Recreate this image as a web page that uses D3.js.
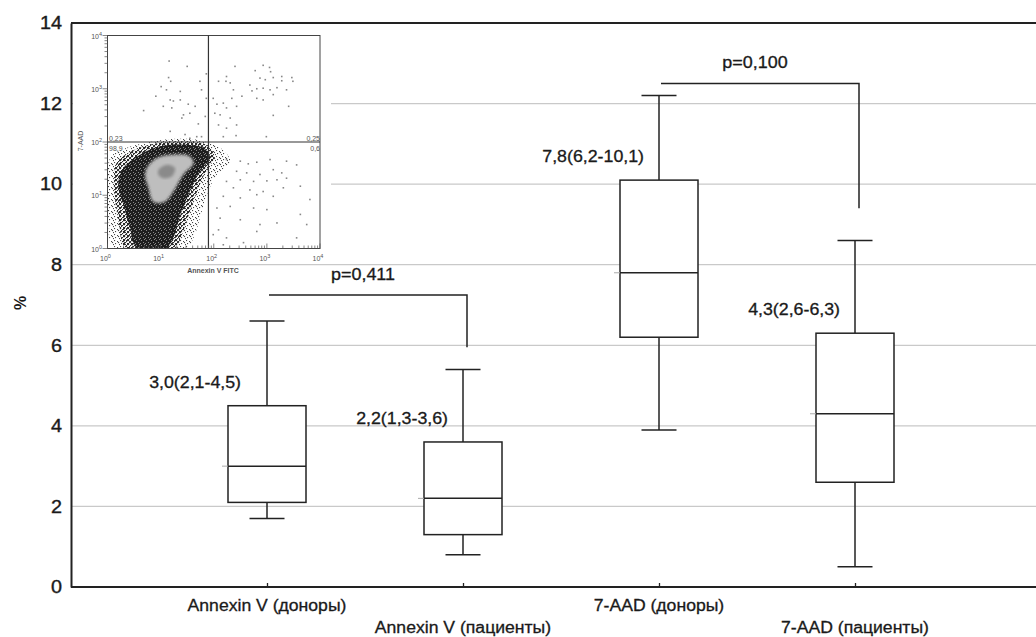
<!DOCTYPE html>
<html lang="ru">
<head>
<meta charset="UTF-8">
<title>Annexin V / 7-AAD</title>
<script src="https://d3js.org/d3.v7.min.js"></script>
<style>
html, body { margin: 0; padding: 0; background: white; }
body { font-family: 'Liberation Sans', Arial, sans-serif; }
.tick-label { font-size: 18px; fill: #1a1a1a; stroke: #1a1a1a; stroke-width: 0.35px; }
.cat-label { font-size: 16px; fill: #1a1a1a; stroke: #1a1a1a; stroke-width: 0.3px; }
.note { font-size: 16px; fill: #1a1a1a; stroke: #1a1a1a; stroke-width: 0.3px; }
.inset-text { font-size: 7px; fill: #555; }
</style>
</head>
<body>
<div id="chart"></div>
<script>

// --------------------------------------
// Data
// --------------------------------------

const categories = ["Annexin V (доноры)", "Annexin V (пациенты)", "7-AAD (доноры)", "7-AAD (пациенты)"];
const whiskerLow  = [1.7, 0.8, 3.9, 0.5];
const q1          = [2.1, 1.3, 6.2, 2.6];
const medians     = [3.0, 2.2, 7.8, 4.3];
const q3          = [4.5, 3.6, 10.1, 6.3];
const whiskerHigh = [6.6, 5.4, 12.2, 8.6];
const yTicks = [0, 2, 4, 6, 8, 10, 12, 14];

// comparison brackets
const bracketPairs = [[0, 1], [2, 3]];
const bracketTop   = [7.25, 12.5];
const bracketEnd   = [5.95, 9.4];
const pLabels      = ["p=0,411", "p=0,100"];

// inset dot plot (log10 decades: [Annexin V FITC, 7-AAD])
const insetTicks = [0, 1, 2, 3, 4];
const gateX = 1.9, gateY = 2.0;
const quadrantLabels = ["0,23", "98,9", "0,25", "0,6"];
const sparseDots = [
  [1.16,3.52],[1.50,3.42],[1.15,3.21],[1.19,3.14],[1.01,3.04],[1.11,2.98],[1.37,2.95],[0.91,2.86],
  [1.18,2.79],[1.24,2.77],[1.37,2.79],[1.05,2.67],[0.68,2.59],[1.21,2.64],[1.52,2.71],[1.65,2.67],
  [1.55,2.54],[1.43,2.51],[1.40,2.45],[1.74,3.14],[1.86,3.28],[1.77,2.98],[1.86,2.82],[1.71,2.34],
  [1.84,2.48],[1.18,2.20],[1.46,2.14],[1.55,2.07],[1.68,2.10],[1.77,2.10],
  [2.40,3.42],[2.24,3.23],[2.09,3.14],[2.23,3.14],[2.31,3.11],[2.78,3.34],[2.93,3.44],[3.05,3.40],
  [3.07,3.32],[2.87,3.20],[2.97,3.17],[3.12,3.21],[3.28,3.23],[3.28,3.15],[3.47,3.21],[3.49,3.14],
  [2.68,3.07],[2.72,2.96],[2.81,3.00],[2.93,3.01],[3.06,2.98],[3.19,3.02],[3.37,2.98],[2.81,2.82],
  [2.93,2.79],[3.12,2.89],[2.37,2.98],[2.34,2.82],[2.53,2.86],[1.99,2.82],[2.06,2.71],[2.18,2.73],
  [2.24,2.64],[2.43,2.67],[2.02,2.54],[2.12,2.51],[2.31,2.45],[2.43,2.32],[2.09,2.32],[2.24,2.26],
  [2.42,2.12],[2.18,2.10],[2.99,2.10],[3.41,2.67],[3.12,2.50],
  [2.24,1.67],[2.50,1.64],[2.65,1.59],[2.81,1.62],[3.06,1.67],[3.37,1.64],[3.56,1.57],[2.43,1.45],
  [2.62,1.42],[2.87,1.39],[3.12,1.48],[3.28,1.42],[2.24,1.26],[2.50,1.29],[2.75,1.26],[3.00,1.27],
  [3.19,1.29],[3.37,1.32],[2.37,1.14],[2.68,1.10],[2.93,1.07],[3.31,1.14],[3.63,1.17],[2.18,0.98],
  [2.50,0.95],[2.81,1.01],[3.12,0.98],[3.81,0.92],[2.06,0.76],[2.31,0.79],[2.75,0.76],[3.00,0.73],
  [2.12,0.57],[2.50,0.54],[2.87,0.45],[3.19,0.48],[3.63,0.64],[2.09,0.35],[2.24,0.20],[2.56,0.11],
  [2.81,0.32],[3.56,0.20],[3.75,0.45],[2.18,0.07],[1.99,0.26]
];
const haloOutline = [[0.05,1.70],[0.36,1.89],[0.80,2.00],[1.30,2.06],[1.74,2.03],[2.12,1.89],[2.31,1.64],
  [2.06,1.39],[1.87,1.01],[1.74,0.57],[1.62,0.20],[1.49,0.01],[0.11,0.01],[0.02,0.51],[0.0,1.14]];
const midOutline = [[0.18,1.62],[0.50,1.85],[0.95,1.98],[1.40,2.01],[1.85,1.95],[2.02,1.72],[1.85,1.45],
  [1.68,1.05],[1.52,0.60],[1.38,0.20],[1.28,0.01],[0.34,0.01],[0.22,0.45],[0.14,0.95],[0.12,1.30]];
const denseOutline = [[0.30,1.51],[0.61,1.76],[0.99,1.92],[1.43,1.95],[1.81,1.89],[1.93,1.70],[1.74,1.45],
  [1.55,1.07],[1.37,0.63],[1.24,0.20],[1.11,0.01],[0.55,0.01],[0.42,0.39],[0.30,0.82],[0.20,1.20]];
const lightOutline = [[0.74,1.51],[0.93,1.70],[1.24,1.76],[1.55,1.73],[1.62,1.60],[1.43,1.39],[1.24,1.07],
  [1.08,0.88],[0.86,0.88],[0.77,1.14],[0.71,1.35]];
const coreOutline = [[0.96,1.48],[1.11,1.57],[1.27,1.51],[1.21,1.35],[1.05,1.32],[0.96,1.38]];

// --------------------------------------
// Size
// --------------------------------------

let totalWidth = 1036;
let totalHeight = 637;

let svg = d3.select('#chart')
  .append("svg")
  .attr("width", totalWidth)
  .attr("height", totalHeight)
  .style("background", "white");

// the scanned figure's lettering is a bit wider than Arial
function widen(sel, k) {
  sel.each(function () {
    let w = this.getComputedTextLength();
    d3.select(this).attr("textLength", w * k).attr("lengthAdjust", "spacingAndGlyphs");
  });
}

// --------------------------------------
// Scales
// --------------------------------------

let x = d3.scalePoint()
  .domain(categories)
  .range([71, 1051])
  .padding(1);

let y = d3.scaleLinear()
  .domain([0, 14])
  .range([587, 23]);

let left = 71, right = totalWidth;

// --------------------------------------
// Grid and axes
// --------------------------------------

svg.append("g")
  .selectAll("line")
  .data(yTicks.filter(d => d > 0 && d < 14))
  .join("line")
  .attr("x1", left).attr("x2", right)
  .attr("y1", d => y(d)).attr("y2", d => y(d))
  .attr("stroke", "#c9c9c9")
  .attr("stroke-width", 1.3);

let yAxis = svg.append("g")
  .attr("transform", `translate(${left},0)`)
  .call(d3.axisLeft(y).tickValues(yTicks).tickSize(0).tickPadding(9));
yAxis.select(".domain").attr("stroke", "#222").attr("stroke-width", 2);
yAxis.selectAll("text").attr("class", "tick-label").attr("font-family", null).attr("font-size", null)
  .call(widen, 1.1);

let xAxis = svg.append("g")
  .attr("transform", `translate(0,${y(0)})`)
  .call(d3.axisBottom(x).tickSize(-4).tickFormat(""));
xAxis.select(".domain").attr("d", `M${left},0H${right}`).attr("stroke", "#222").attr("stroke-width", 2);
xAxis.selectAll(".tick line").attr("stroke", "#222").attr("stroke-width", 1.3);

// top border
svg.append("line")
  .attr("x1", left).attr("x2", right)
  .attr("y1", y(14)).attr("y2", y(14))
  .attr("stroke", "#222").attr("stroke-width", 2);

// category labels on two rows
svg.append("g")
  .selectAll("text")
  .data(categories)
  .join("text")
  .attr("class", "cat-label")
  .attr("x", d => x(d))
  .attr("y", (d, i) => y(0) + (i % 2 ? 46 : 24))
  .attr("text-anchor", "middle")
  .text(d => d)
  .call(widen, 1.1);

// y title
svg.append("text")
  .attr("transform", "translate(26,303) rotate(-90)")
  .attr("text-anchor", "middle")
  .attr("font-size", 16)
  .attr("font-weight", "bold")
  .attr("fill", "#1a1a1a")
  .text("%");

// --------------------------------------
// Inset dot plot
// --------------------------------------

let inset = svg.append("g").attr("class", "inset");
inset.append("rect")
  .attr("x", 73).attr("y", 25)
  .attr("width", 258).attr("height", 237)
  .attr("fill", "white");

let ix = d3.scaleLog().domain([1, 1e4]).range([107.5, 320]);
let iy = d3.scaleLog().domain([1, 1e4]).range([248.5, 35.5]);
let px = d => ix(Math.pow(10, d[0]));
let py = d => iy(Math.pow(10, d[1]));

let defs = svg.append("defs");
let halo = defs.append("pattern").attr("id", "halo")
  .attr("width", 6).attr("height", 6).attr("patternUnits", "userSpaceOnUse");
[[0,0],[3,1],[1,3],[5,4],[4,2]].forEach(p => halo.append("rect")
  .attr("x", p[0]).attr("y", p[1]).attr("width", 1.1).attr("height", 1.1).attr("fill", "#444"));
let mid = defs.append("pattern").attr("id", "mid")
  .attr("width", 4).attr("height", 4).attr("patternUnits", "userSpaceOnUse");
[[0,0],[2,1],[1,2],[3,3],[0,3],[3,0]].forEach(p => mid.append("rect")
  .attr("x", p[0]).attr("y", p[1]).attr("width", 1.1).attr("height", 1.1).attr("fill", "#2a2a2a"));
let dense = defs.append("pattern").attr("id", "dense")
  .attr("width", 5).attr("height", 5).attr("patternUnits", "userSpaceOnUse");
dense.append("rect").attr("width", 5).attr("height", 5).attr("fill", "#1e1e1e");
[[1,0],[3,2],[0,3],[4,4]].forEach(p => dense.append("rect")
  .attr("x", p[0]).attr("y", p[1]).attr("width", 1).attr("height", 1).attr("fill", "#8a8a8a"));
defs.append("filter").attr("id", "soft")
  .append("feGaussianBlur").attr("stdDeviation", 1.4);

let clip = defs.append("clipPath").attr("id", "insetClip");
clip.append("rect").attr("x", 107.5).attr("y", 35.5).attr("width", 212.5).attr("height", 213);

let blob = d3.line().x(px).y(py).curve(d3.curveCatmullRomClosed);
let plot = inset.append("g").attr("clip-path", "url(#insetClip)");
plot.append("path").attr("d", blob(haloOutline)).attr("fill", "url(#halo)");
plot.append("path").attr("d", blob(midOutline)).attr("fill", "url(#mid)");
plot.append("path").attr("d", blob(denseOutline)).attr("fill", "url(#dense)");
plot.append("path").attr("d", blob(lightOutline)).attr("fill", "#bebebe").attr("filter", "url(#soft)");
plot.append("path").attr("d", blob(coreOutline)).attr("fill", "#8a8a8a").attr("filter", "url(#soft)");

plot.selectAll(".dot")
  .data(sparseDots)
  .join("rect")
  .attr("class", "dot")
  .attr("x", d => px(d) - 0.8).attr("y", d => py(d) - 0.8)
  .attr("width", 1.6).attr("height", 1.6)
  .attr("fill", "#888");

// frame and gates
inset.append("rect")
  .attr("x", 107.5).attr("y", 35.5).attr("width", 212.5).attr("height", 213)
  .attr("fill", "none").attr("stroke", "#444").attr("stroke-width", 1);
inset.append("line")
  .attr("x1", ix(Math.pow(10, gateX))).attr("x2", ix(Math.pow(10, gateX)))
  .attr("y1", 35.5).attr("y2", 248.5)
  .attr("stroke", "#333").attr("stroke-width", 1.2);
inset.append("line")
  .attr("x1", 107.5).attr("x2", 320)
  .attr("y1", iy(Math.pow(10, gateY))).attr("y2", iy(Math.pow(10, gateY)))
  .attr("stroke", "#333").attr("stroke-width", 1.2);

// log ticks
inset.append("g").selectAll("line").data(ix.ticks()).join("line")
  .attr("x1", d => ix(d)).attr("x2", d => ix(d))
  .attr("y1", 248.5).attr("y2", d => 248.5 - (Math.log10(d) % 1 === 0 ? 5 : 3))
  .attr("stroke", "#555").attr("stroke-width", 0.7);
inset.append("g").selectAll("line").data(iy.ticks()).join("line")
  .attr("x1", 107.5).attr("x2", d => 107.5 - (Math.log10(d) % 1 === 0 ? 5 : 3))
  .attr("y1", d => iy(d)).attr("y2", d => iy(d))
  .attr("stroke", "#555").attr("stroke-width", 0.7);

let pow = (sel) => {
  sel.append("tspan").text("10");
  sel.append("tspan").attr("dy", -3).attr("font-size", 5.5).text(d => d);
};
inset.append("g").selectAll("text").data(insetTicks).join("text")
  .attr("class", "inset-text")
  .attr("x", d => ix(Math.pow(10, d)) - 2)
  .attr("y", 261)
  .attr("text-anchor", "middle")
  .call(pow);
inset.append("g").selectAll("text").data(insetTicks).join("text")
  .attr("class", "inset-text")
  .attr("x", 102)
  .attr("y", d => iy(Math.pow(10, d)) + 3)
  .attr("text-anchor", "end")
  .attr("font-size", 6)
  .call(pow);

inset.append("text")
  .attr("class", "inset-text")
  .attr("x", 213).attr("y", 273)
  .attr("text-anchor", "middle")
  .attr("font-size", 6.5)
  .attr("font-weight", "bold")
  .text("Annexin V FITC");
inset.append("text")
  .attr("class", "inset-text")
  .attr("transform", "translate(83,141) rotate(-90)")
  .attr("text-anchor", "middle")
  .attr("font-size", 6.5)
  .text("7-AAD");

let gy = iy(Math.pow(10, gateY));
[[109, gy - 1.5, "start"], [109, gy + 8.5, "start"], [320, gy - 1.5, "end"], [320, gy + 8.5, "end"]]
  .forEach((p, i) => inset.append("text")
    .attr("class", "inset-text")
    .attr("x", p[0]).attr("y", p[1])
    .attr("text-anchor", p[2])
    .attr("font-size", 7.5)
    .attr("fill", "#444")
    .text(quadrantLabels[i]));

// --------------------------------------
// Boxes
// --------------------------------------

let boxW = 78, capW = 35;
let boxes = svg.append("g")
  .selectAll("g")
  .data(categories)
  .join("g")
  .attr("stroke", "#222")
  .attr("stroke-width", 1.5)
  .attr("fill", "none");

boxes.append("line")
  .attr("x1", d => x(d)).attr("x2", d => x(d))
  .attr("y1", (d, i) => y(whiskerLow[i])).attr("y2", (d, i) => y(q1[i]));
boxes.append("line")
  .attr("x1", d => x(d)).attr("x2", d => x(d))
  .attr("y1", (d, i) => y(q3[i])).attr("y2", (d, i) => y(whiskerHigh[i]));
boxes.append("line")
  .attr("x1", d => x(d) - capW / 2).attr("x2", d => x(d) + capW / 2)
  .attr("y1", (d, i) => y(whiskerLow[i])).attr("y2", (d, i) => y(whiskerLow[i]));
boxes.append("line")
  .attr("x1", d => x(d) - capW / 2).attr("x2", d => x(d) + capW / 2)
  .attr("y1", (d, i) => y(whiskerHigh[i])).attr("y2", (d, i) => y(whiskerHigh[i]));
boxes.append("rect")
  .attr("x", d => x(d) - boxW / 2)
  .attr("y", (d, i) => y(q3[i]))
  .attr("width", boxW)
  .attr("height", (d, i) => y(q1[i]) - y(q3[i]))
  .attr("fill", "white");
boxes.append("line")
  .attr("x1", d => x(d) - boxW / 2).attr("x2", d => x(d) + boxW / 2)
  .attr("y1", (d, i) => y(medians[i])).attr("y2", (d, i) => y(medians[i]));
boxes.append("line")
  .attr("stroke", "#aaa").attr("stroke-width", 1)
  .attr("x1", d => x(d) - boxW / 2 - 6).attr("x2", d => x(d) - boxW / 2)
  .attr("y1", (d, i) => y(medians[i])).attr("y2", (d, i) => y(medians[i]));

// median (Q1-Q3) notes
let fmt = v => d3.format(".1f")(v).replace(".", ",");
svg.append("g")
  .selectAll("text")
  .data(categories)
  .join("text")
  .attr("class", "note")
  .attr("x", (d, i) => x(d) - (i === 0 ? 26 : 15))
  .attr("y", (d, i) => y(q3[i]) - 18)
  .attr("text-anchor", "end")
  .text((d, i) => `${fmt(medians[i])}(${fmt(q1[i])}-${fmt(q3[i])})`)
  .call(widen, 1.11);

// --------------------------------------
// Brackets
// --------------------------------------

bracketPairs.forEach((pair, i) => {
  let x0 = x(categories[pair[0]]) + 2;
  let x1 = x(categories[pair[1]]) + 4;
  svg.append("path")
    .attr("d", `M${x0},${y(bracketTop[i])}H${x1}V${y(bracketEnd[i])}`)
    .attr("fill", "none")
    .attr("stroke", "#222")
    .attr("stroke-width", 1.5);
  svg.append("text")
    .attr("class", "note")
    .attr("x", (x0 + x1) / 2 - 5)
    .attr("y", y(bracketTop[i]) - 15)
    .attr("text-anchor", "middle")
    .text(pLabels[i])
    .call(widen, 1.12);
});

</script>
</body>
</html>
